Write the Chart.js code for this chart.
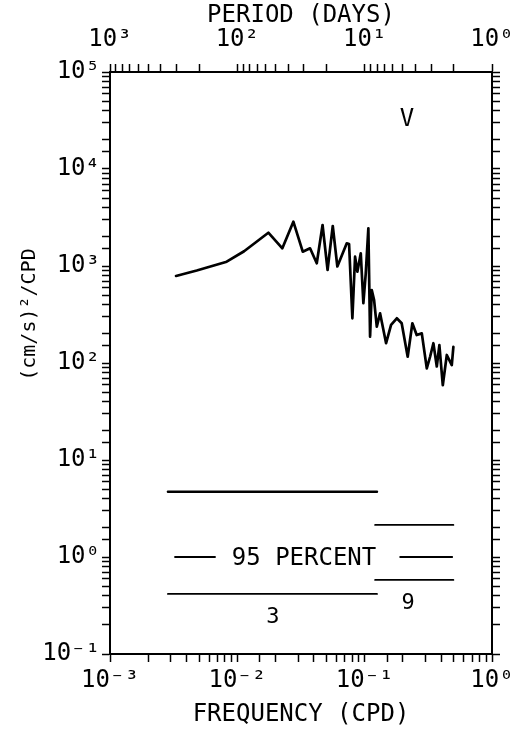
<!DOCTYPE html>
<html>
<head>
<meta charset="utf-8">
<script src="https://cdn.jsdelivr.net/npm/chart.js@4.4.1/dist/chart.umd.min.js"></script>
<style>
  html, body { margin: 0; padding: 0; background: #fff; }
  #wrap { width: 523px; height: 731px; }
</style>
</head>
<body>
<div id="wrap"><canvas id="c" width="523" height="731"></canvas></div>
<script>
// Velocity spectrum (V component), frequency in cycles per day
const frequency = [
  0.00330, 0.00480, 0.00825, 0.01130, 0.01752, 0.02257, 0.02754, 0.03264,
  0.03725, 0.04205, 0.04670, 0.05112, 0.05616, 0.06102, 0.07235, 0.07543,
  0.08006, 0.08407, 0.08766, 0.09320, 0.09768, 0.10200, 0.10690, 0.11030,
  0.11370, 0.11860, 0.12450, 0.13210, 0.14730, 0.16120, 0.17880, 0.19530,
  0.21770, 0.23690, 0.25620, 0.28100, 0.30750, 0.32650, 0.34650, 0.36840,
  0.38610, 0.41070, 0.44160, 0.48320, 0.49740
];
// Spectral density, (cm/s)^2 per CPD
const spectrum = [
  789, 900, 1108, 1420, 2204, 1522, 2861, 1404,
  1522, 1066, 2647, 910, 2585, 988, 1714, 1686,
  289, 1247, 873, 1352, 413, 841, 2447, 187,
  566, 446, 237, 325, 160, 247, 289, 257,
  116, 257, 194, 202, 88, 116, 160, 92,
  153, 59, 121, 95, 147
];

// 95 percent confidence bars: 3 degrees of freedom (low band), 9 (high band)
const ci3Freq = [0.00285, 0.125];
const ci3Upper = [4.7, 4.7];
const ci3Lower = [0.416, 0.416];
const ci9Freq = [0.1208, 0.4974];
const ci9Upper = [2.14, 2.14];
const ci9Lower = [0.58, 0.58];
const dashLeftFreq = [0.00324, 0.00668];
const dashRightFreq = [0.190, 0.487];
const dashLevel = [1.0, 1.0];

// Period axis ticks (days)
const periodTicks = [];
for (const dec of [1, 10, 100]) {
  for (let m = 1; m <= 9; m++) periodTicks.push(m * dec);
}
periodTicks.push(1000);

const FONT = 'DejaVu Sans Mono';
const SUP = { '-': '\u207B', '0': '\u2070', '1': '\u00B9', '2': '\u00B2', '3': '\u00B3', '4': '\u2074', '5': '\u2075' };

function pow10Label(v) {
  const lg = Math.log10(v);
  const e = Math.round(lg);
  if (Math.abs(lg - e) > 1e-6) return '';
  return '10' + String(e).split('').map(c => SUP[c]).join('');
}

const pts = (xs, ys) => xs.map((x, i) => ({ x: x, y: ys[i] }));

const lineSet = (data, width) => ({
  data: data,
  borderColor: '#000',
  backgroundColor: '#000',
  borderWidth: width,
  pointRadius: 0,
  tension: 0,
  fill: false,
  borderJoinStyle: 'round',
  borderCapStyle: 'round',
  xAxisID: 'x',
  yAxisID: 'y'
});

const tickGrid = {
  drawOnChartArea: false,
  drawTicks: true,
  tickLength: 8,
  tickColor: '#000',
  tickWidth: 1.5,
  color: '#000'
};
const axisBorder = { display: true, color: '#000', width: 2 };
const tickFont = { family: FONT, size: 24 };

// Text annotations placed in data coordinates
const annotations = [
  { text: '95 PERCENT', x: 0.0334, y: 0.95, size: 24 },
  { text: '3', x: 0.0190, y: 0.24, size: 22 },
  { text: '9', x: 0.219, y: 0.336, size: 22 },
  { text: 'V', x: 0.215, y: 32000, size: 24 }
];

const textPlugin = {
  id: 'textPlugin',
  afterDraw(chart) {
    const ctx = chart.ctx;
    const xs = chart.scales.x, ys = chart.scales.y;
    ctx.save();
    ctx.fillStyle = '#000';
    ctx.textAlign = 'center';
    ctx.textBaseline = 'middle';
    for (const a of annotations) {
      ctx.font = a.size + 'px "' + FONT + '"';
      ctx.fillText(a.text, xs.getPixelForValue(a.x), ys.getPixelForValue(a.y));
    }
    // vertical axis title
    ctx.font = '20px "' + FONT + '"';
    ctx.translate(30, ys.getPixelForValue(316));
    ctx.rotate(-Math.PI / 2);
    ctx.fillText('(cm/s)\u00B2/CPD', 0, 0);
    ctx.restore();
  }
};

new Chart(document.getElementById('c'), {
  type: 'line',
  data: {
    datasets: [
      lineSet(pts(frequency, spectrum), 2.7),
      lineSet(pts(ci3Freq, ci3Upper), 2.4),
      lineSet(pts(ci3Freq, ci3Lower), 1.8),
      lineSet(pts(ci9Freq, ci9Upper), 1.8),
      lineSet(pts(ci9Freq, ci9Lower), 1.8),
      lineSet(pts(dashLeftFreq, dashLevel), 1.8),
      lineSet(pts(dashRightFreq, dashLevel), 1.8)
    ]
  },
  options: {
    responsive: false,
    animation: false,
    devicePixelRatio: 1,
    layout: { padding: 0 },
    plugins: { legend: { display: false }, tooltip: { enabled: false } },
    scales: {
      x: {
        type: 'logarithmic', position: 'bottom', min: 1e-3, max: 1,
        border: axisBorder, grid: tickGrid,
        ticks: { autoSkip: false, maxRotation: 0, minRotation: 0, padding: 4, color: '#000', font: tickFont,
                 callback: v => pow10Label(v) },
        title: { display: true, text: 'FREQUENCY (CPD)', color: '#000', font: { family: FONT, size: 24 },
                 padding: { top: 0, bottom: 2 } },
        afterFit: s => { s.height = 77; }
      },
      xTop: {
        type: 'logarithmic', position: 'top', min: 1e-3, max: 1,
        border: axisBorder, grid: tickGrid,
        afterBuildTicks: s => { s.ticks = periodTicks.map(p => ({ value: 1 / p })); },
        ticks: { autoSkip: false, maxRotation: 0, minRotation: 0, padding: 10, color: '#000', font: tickFont,
                 callback: v => pow10Label(1 / v) },
        title: { display: true, text: 'PERIOD (DAYS)', color: '#000', font: { family: FONT, size: 24 },
                 padding: { top: 1, bottom: 0 } },
        afterFit: s => { s.height = 72; }
      },
      y: {
        type: 'logarithmic', position: 'left', min: 0.1, max: 1e5,
        border: axisBorder, grid: tickGrid,
        ticks: { autoSkip: false, padding: 2, color: '#000', font: tickFont,
                 callback: v => pow10Label(v) },
        afterFit: s => { s.width = 110; }
      },
      yRight: {
        type: 'logarithmic', position: 'right', min: 0.1, max: 1e5,
        border: axisBorder, grid: tickGrid,
        ticks: { autoSkip: false, display: true, color: 'rgba(0,0,0,0)', font: { size: 1 }, callback: () => '' },
        afterFit: s => { s.width = 31; }
      }
    }
  },
  plugins: [textPlugin]
});
</script>
</body>
</html>
